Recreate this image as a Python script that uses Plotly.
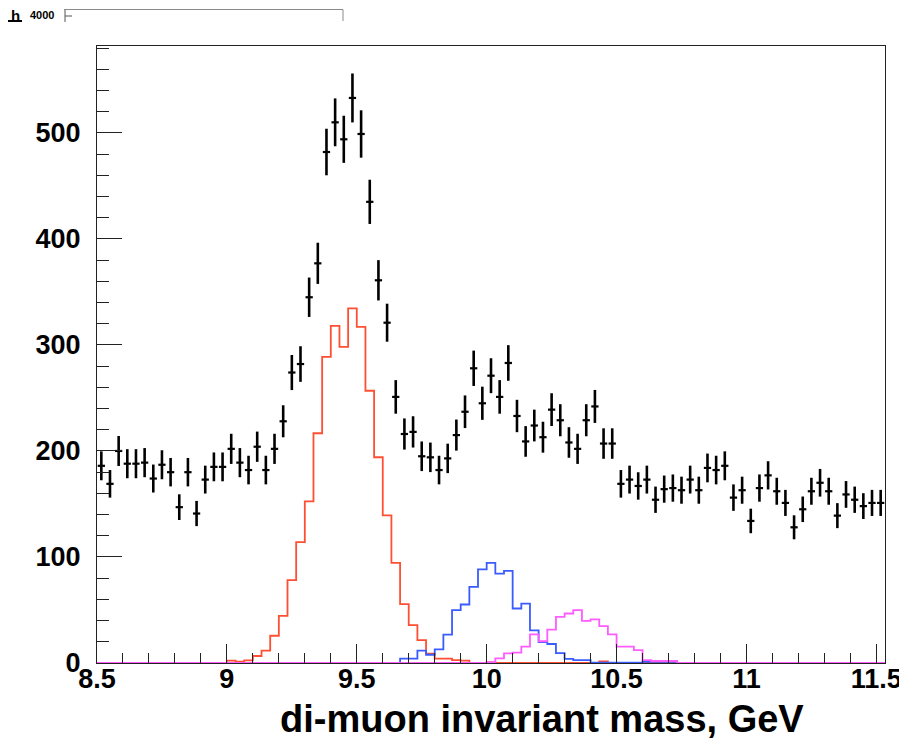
import math
import plotly.graph_objects as go

# ---------------- data ----------------
x_low = 8.5
bin_width = 1.0 / 30.0
n_bins = 91

data_counts = [186, 169, 200, 188, 188, 189, 174, 187, 180, 147,
               180, 141, 173, 185, 185, 202, 189, 182, 204, 182,
               202, 228, 274, 282, 345, 377, 482, 510, 494, 533,
               499, 435, 361, 321, 251, 216, 218, 195, 194, 182,
               193, 215, 237, 278, 245, 271, 251, 283, 233, 209,
               224, 213, 239, 229, 208, 202, 229, 242, 207, 207,
               169, 173, 167, 173, 154, 164, 165, 163, 173, 163,
               184, 182, 186, 156, 163, 134, 165, 177, 162, 151,
               128, 145, 162, 170, 162, 139, 159, 154, 148, 151,
               151]

red_counts = [0, 0, 0, 0, 0, 0, 0, 0, 0, 0,
              0, 0, 0, 0, 0, 2.2, 1.3, 2.5, 6.6, 11.6,
              25.7, 44.5, 78.1, 114.1, 152.4, 216.7, 288.8, 318, 298.2, 334.6,
              317, 256.8, 194.1, 139.2, 94.5, 55.6, 35.7, 21.6, 8.8, 4.2,
              4.2, 2.8, 2.2, 0, 0, 0.5, 0, 0, 0, 0,
              0, 0, 0, 0, 0, 0, 0, 0, 1.5, 0,
              0, 0, 0, 0, 0, 0, 0, 0, 0, 0,
              0, 0, 0, 0, 0, 0, 0, 0, 0, 0,
              0, 0, 0, 0, 0, 0, 0, 0, 0, 0,
              0]

blue_counts = [0, 0, 0, 0, 0, 0, 0, 0, 0, 0,
               0, 0, 0, 0, 0, 0, 0, 0, 0, 0,
               0, 0, 0, 0, 0, 0, 0, 0, 0, 0,
               0, 0, 0, 0, 0, 4.1, 4.1, 11.6, 7.8, 12.9,
               26.7, 49.9, 55.2, 71.8, 88.4, 94.4, 84.3, 86.9, 51.4, 56.1,
               30.7, 19.8, 17.9, 9.4, 3.8, 2.8, 2.8, 0.4, 0.4, 0.4,
               0.4, 0.4, 0.4, 1.2, 1.2, 1.2, 1.2, 0, 0, 0,
               0, 0, 0, 0, 0, 0, 0, 0, 0, 0,
               0, 0, 0, 0, 0, 0, 0, 0, 0, 0,
               0]

magenta_counts = [0, 0, 0, 0, 0, 0, 0, 0, 0, 0,
                  0, 0, 0, 0, 0, 0, 0, 0, 0, 0,
                  0, 0, 0, 0, 0, 0, 0, 0, 0, 0,
                  0, 0, 0, 0, 0, 0, 0, 0, 0, 0,
                  0, 0, 0, 0, 0, 0.7, 4.3, 9.0, 9.7, 15.4,
                  27.0, 20.5, 31.5, 43.6, 46.7, 49.9, 39.8, 41.1, 34.8, 27.0,
                  15.4, 15.4, 12.2, 2.8, 1.9, 1.9, 1.9, 0, 0, 0,
                  0, 0, 0, 0, 0, 0, 0, 0, 0, 0,
                  0, 0, 0, 0, 0, 0, 0, 0, 0, 0,
                  0]

x_tick_vals = [8.5, 9.0, 9.5, 10.0, 10.5, 11.0, 11.5]
x_tick_text = ["8.5", "9", "9.5", "10", "10.5", "11", "11.5"]
y_tick_vals = [0, 100, 200, 300, 400, 500]
x_title = "di-muon invariant mass, GeV"
corner_label = "4000"

# ---------------- derived ----------------
edges = [x_low + k * bin_width for k in range(n_bins + 1)]
centers = [x_low + (k + 0.5) * bin_width for k in range(n_bins)]
x_max = edges[-1]
y_max = 582

fig = go.Figure()


def step_trace(counts, color):
    return go.Scatter(
        x=edges, y=list(counts) + [counts[-1]],
        mode="lines", line=dict(color=color, width=1.8, shape="hv"),
        hoverinfo="skip", showlegend=False)


fig.add_trace(step_trace(red_counts, "#ff4f33"))
fig.add_trace(step_trace(blue_counts, "#3a5cff"))
fig.add_trace(step_trace(magenta_counts, "#ff5cff"))

fig.add_trace(go.Scatter(
    x=centers, y=data_counts, mode="markers",
    marker=dict(size=1, color="black"),
    error_y=dict(type="data", array=[math.sqrt(v) for v in data_counts],
                 thickness=2.6, width=0, color="black"),
    error_x=dict(type="constant", value=bin_width * 0.42,
                 thickness=2.2, width=0, color="black"),
    showlegend=False))

# the page body has an 8px margin: work in page pixels, shift by OFF
OFF = 8
W, H = 907 - OFF, 740 - OFF
plot_left, plot_right, plot_top, plot_bottom = 97, 885, 46, 663
L = plot_left - OFF
T = plot_top - OFF
R = W - (plot_right - OFF)
B = H - (plot_bottom - OFF)
pw, ph = W - L - R, H - T - B


def px(xp):
    return (xp - plot_left) / pw


def py(yp):
    return (plot_bottom - yp) / ph


tick_font = dict(family="Liberation Sans, Arial, sans-serif", size=27,
                 color="black", weight="bold")

fig.update_layout(
    width=W, height=H,
    margin=dict(l=L, r=R, t=T, b=B, pad=0, autoexpand=False),
    paper_bgcolor="white", plot_bgcolor="white",
    showlegend=False,
    xaxis=dict(range=[x_low, x_max], showgrid=False, zeroline=False,
               showline=True, linecolor="#222", linewidth=1, mirror=True,
               ticks="inside", ticklen=19, tickcolor="#222", tickwidth=1,
               tickvals=x_tick_vals, ticktext=x_tick_text,
               tickfont=tick_font, ticklabelstandoff=-8,
               minor=dict(dtick=0.1, tick0=8.5, ticks="inside", ticklen=10,
                          tickcolor="#222", tickwidth=1)),
    yaxis=dict(range=[0, y_max], showgrid=False, zeroline=False,
               showline=True, linecolor="#222", linewidth=1, mirror=True,
               ticks="inside", ticklen=25, tickcolor="#222", tickwidth=1,
               tickvals=y_tick_vals, tickfont=tick_font,
               ticklabelstandoff=10,
               minor=dict(dtick=20, tick0=0, ticks="inside", ticklen=12,
                          tickcolor="#222", tickwidth=1)),
)

# x axis title
fig.add_annotation(
    text=x_title, xref="paper", yref="paper",
    x=px(806), y=py(719), xanchor="right", yanchor="middle",
    showarrow=False,
    font=dict(family="Liberation Sans, Arial, sans-serif", size=38,
              color="black", weight="bold"))

# top-left small axis remnant
fig.add_annotation(
    text=corner_label, xref="paper", yref="paper",
    x=px(42), y=py(15), xanchor="center", yanchor="middle",
    showarrow=False,
    font=dict(family="Liberation Sans, Arial, sans-serif", size=11,
              color="black", weight="bold"))
fig.add_annotation(
    text="h", xref="paper", yref="paper",
    x=px(15), y=py(15), xanchor="center", yanchor="middle",
    showarrow=False,
    font=dict(family="Liberation Sans, Arial, sans-serif", size=15,
              color="black", weight="bold"))

line_gray = dict(color="#8a8a8a", width=1)
line_dark = dict(color="#555", width=1)
fig.add_shape(type="line", xref="paper", yref="paper",
              x0=px(64), x1=px(343), y0=py(9.5), y1=py(9.5), line=line_gray)
fig.add_shape(type="line", xref="paper", yref="paper",
              x0=px(343), x1=px(343), y0=py(9.5), y1=py(21), line=line_gray)
fig.add_shape(type="line", xref="paper", yref="paper",
              x0=px(65), x1=px(65), y0=py(10), y1=py(22), line=line_dark)
fig.add_shape(type="line", xref="paper", yref="paper",
              x0=px(65), x1=px(72), y0=py(16), y1=py(16), line=line_dark)
fig.add_shape(type="line", xref="paper", yref="paper",
              x0=px(8), x1=px(22), y0=py(21), y1=py(21),
              line=dict(color="black", width=2))

fig.write_html("out.html")
